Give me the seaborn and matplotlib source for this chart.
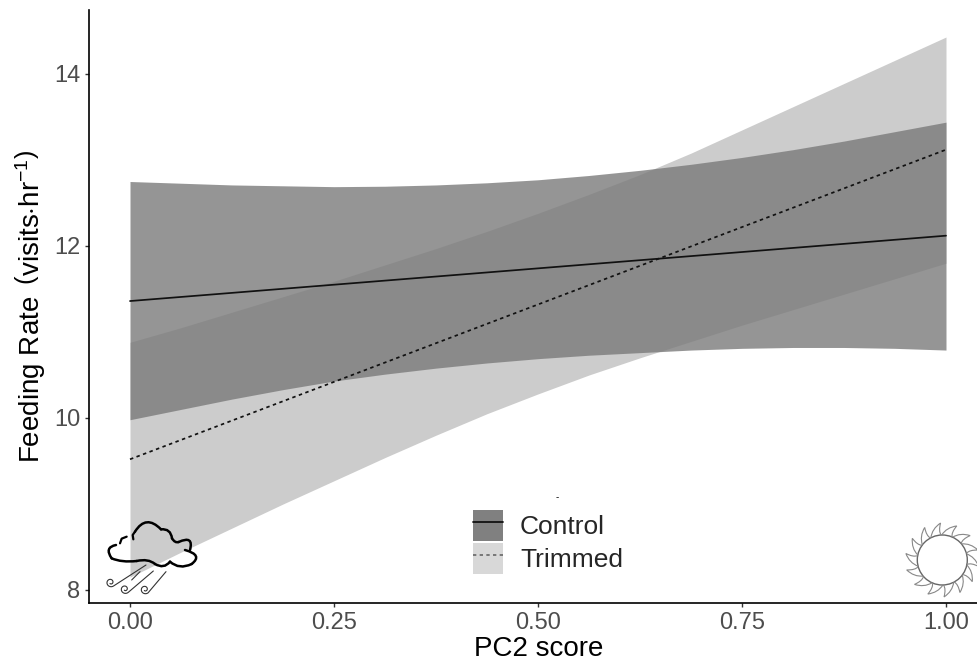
import numpy as np
import pandas as pd
import seaborn as sns
import matplotlib
matplotlib.use("Agg")
import matplotlib.pyplot as plt
from matplotlib.lines import Line2D
from matplotlib.patches import Patch, PathPatch, Circle
from matplotlib.path import Path

# ---- data ----
pc2 = [0, .0625, .125, .1875, .25, .3125, .375, .4375, .5, .5625, .625, .6875, .75, .8125, .875, .9375, 1]
control_upper = [12.75, 12.73, 12.71, 12.70, 12.69, 12.695, 12.71, 12.735, 12.77, 12.82, 12.88, 12.95, 13.03, 13.12, 13.22, 13.33, 13.44]
control_lower = [9.98, 10.10, 10.22, 10.33, 10.43, 10.51, 10.58, 10.64, 10.69, 10.73, 10.76, 10.79, 10.81, 10.82, 10.82, 10.81, 10.79]
trimmed_upper = [10.88, 11.05, 11.23, 11.41, 11.59, 11.78, 11.97, 12.17, 12.38, 12.60, 12.83, 13.08, 13.35, 13.62, 13.89, 14.16, 14.43]
trimmed_lower = [8.15, 8.44, 8.72, 9.00, 9.27, 9.54, 9.80, 10.05, 10.28, 10.50, 10.70, 10.89, 11.08, 11.26, 11.44, 11.62, 11.80]
line_x = [0, 1]
control_fit = [11.36, 12.12]
trimmed_fit = [9.52, 13.12]
x_ticks = [0, .25, .5, .75, 1]
x_tick_labels = ["0.00", "0.25", "0.50", "0.75", "1.00"]
y_ticks = [8, 10, 12, 14]
groups = ["Control", "Trimmed"]

sns.set_theme(style="ticks")
plt.rcParams["font.family"] = ["Liberation Sans", "DejaVu Sans"]
plt.rcParams["mathtext.fontset"] = "custom"
plt.rcParams["mathtext.rm"] = "Liberation Sans"
plt.rcParams["mathtext.default"] = "regular"

W, H = 977, 663
fig = plt.figure(figsize=(W / 100, H / 100), dpi=100, facecolor="white")
ax = fig.add_axes([89 / W, (H - 603) / H, (W - 89) / W, (603 - 10) / H])

ax.fill_between(pc2, control_lower, control_upper, color="#2d2d2d", alpha=.5, lw=0)
ax.fill_between(pc2, trimmed_lower, trimmed_upper, color="#797979", alpha=.38, lw=0)

df = pd.DataFrame({
    "x": line_x * 2,
    "y": control_fit + trimmed_fit,
    "group": [groups[0]] * 2 + [groups[1]] * 2,
})
sns.lineplot(data=df, x="x", y="y", style="group", color="#111111", lw=1.25,
             dashes={"Control": "", "Trimmed": (2, 2)}, legend=False, ax=ax,
             errorbar=None)

ax.set_xlim(-41 / 816, 1 + 31 / 816)
ax.set_ylim(8 - 13 / 86, 14 + 64 / 86)
ax.set_xticks(x_ticks, x_tick_labels)
ax.set_yticks(y_ticks)
ax.tick_params(labelsize=17, labelcolor="#4d4d4d", color="#333333", length=3, width=1, pad=3.2)
ax.set_xlabel("PC2 score", fontsize=20, color="black")
ax.xaxis.set_label_coords((538.5 - 89) / (W - 89), -(636 - 603) / 593)
ax.set_ylabel(r"Feeding Rate $\,\left(\mathrm{visits{\cdot}hr^{-1}}\right)$", fontsize=20, color="black")
ax.yaxis.set_label_coords(-(89 - 47) / (W - 89), (603 - 306) / 593)
sns.despine(ax=ax)
for s in ("left", "bottom"):
    ax.spines[s].set_linewidth(1.2)
    ax.spines[s].set_color("black")

handles = [
    (Patch(fc="#808080", ec="none"), Line2D([], [], color="#111111", lw=1.3)),
    (Patch(fc="#d8d8d8", ec="none"), Line2D([], [], color="#666666", lw=1.2, dashes=(2, 2))),
]
leg = ax.legend(handles, groups, frameon=False, fontsize=19, loc="lower left",
                bbox_to_anchor=((473 - 89) / (W - 89), (603 - 574) / 593),
                bbox_transform=ax.transAxes, borderaxespad=0, borderpad=0,
                handlelength=1.137, handleheight=1.42, handletextpad=.64, labelspacing=.08)

# ---- decorative icons, drawn in pixel space ----
ov = fig.add_axes([0, 0, 1, 1], facecolor="none")
ov.set_xlim(0, W)
ov.set_ylim(H, 0)
ov.axis("off")
ov.text(557, 497, "-", fontsize=7, ha="center", va="center", color="black")


def z(p):
    return (90 + p[0] / 3, 490 + p[1] / 3)


cloud_arcs = [
    ((135, 125), (168, 72), (213, 118)),
    ((213, 118), (242, 115), (246, 145)),
    ((246, 145), (255, 160), (266, 156)),
    ((266, 156), (312, 135), (300, 180)),
    ((285, 180), (340, 195), (305, 222)),
    ((305, 222), (268, 240), (240, 215)),
    ((240, 215), (222, 238), (195, 222)),
    ((195, 222), (175, 205), (140, 213)),
    ((140, 213), (95, 218), (65, 205)),
    ((65, 205), (42, 172), (78, 165)),
]
for a, b, c in cloud_arcs:
    ov.add_patch(PathPatch(Path([z(a), z(b), z(c)], [Path.MOVETO, Path.CURVE3, Path.CURVE3]),
                           fc="none", ec="black", lw=1.8, capstyle="round"))
ov.plot(*zip(*[z((135, 125)), z((128, 135)), z((130, 148))]), color="black", lw=1.6)
ov.plot(*zip(*[z((90, 160)), z((95, 146)), z((110, 140))]), color="black", lw=1.6)

wind = [((168, 225), (62, 277)), ((190, 243), (105, 297)), ((228, 245), (165, 298))]
for start, centre in wind:
    theta = np.linspace(np.radians(50), np.radians(50 + 430), 40)
    rad = np.linspace(14, 4, 40)
    pts = [start] + [(centre[0] + q * np.cos(t), centre[1] + q * np.sin(t)) for q, t in zip(rad, theta)]
    ov.plot(*zip(*[z(p) for p in pts]), color="#333333", lw=.8)
ov.plot(*zip(*[z((150, 245)), z((125, 270))]), color="#333333", lw=.8)

cx, cy, r = 942.3, 560, 25
ov.add_patch(Circle((cx, cy), r, fc="none", ec="#666666", lw=1))
n_rays = 14
for k in range(n_rays):
    step = 2 * np.pi / n_rays
    a0 = step * k + .2
    p0 = (cx + r * np.cos(a0), cy + r * np.sin(a0))
    p1 = (cx + r * np.cos(a0 + step * .95), cy + r * np.sin(a0 + step * .95))
    t = (cx + 37 * np.cos(a0 + step * .95), cy + 37 * np.sin(a0 + step * .95))
    c0 = (cx + 33 * np.cos(a0 + step * .35), cy + 33 * np.sin(a0 + step * .35))
    c1 = (cx + 29 * np.cos(a0 + step * .75), cy + 29 * np.sin(a0 + step * .75))
    ray = Path([p0, c0, t, c1, p1], [Path.MOVETO, Path.CURVE3, Path.CURVE3, Path.CURVE3, Path.CURVE3])
    ov.add_patch(PathPatch(ray, fc="none", ec="#888888", lw=.8))

fig.savefig("out.png", dpi=100, facecolor="white")
